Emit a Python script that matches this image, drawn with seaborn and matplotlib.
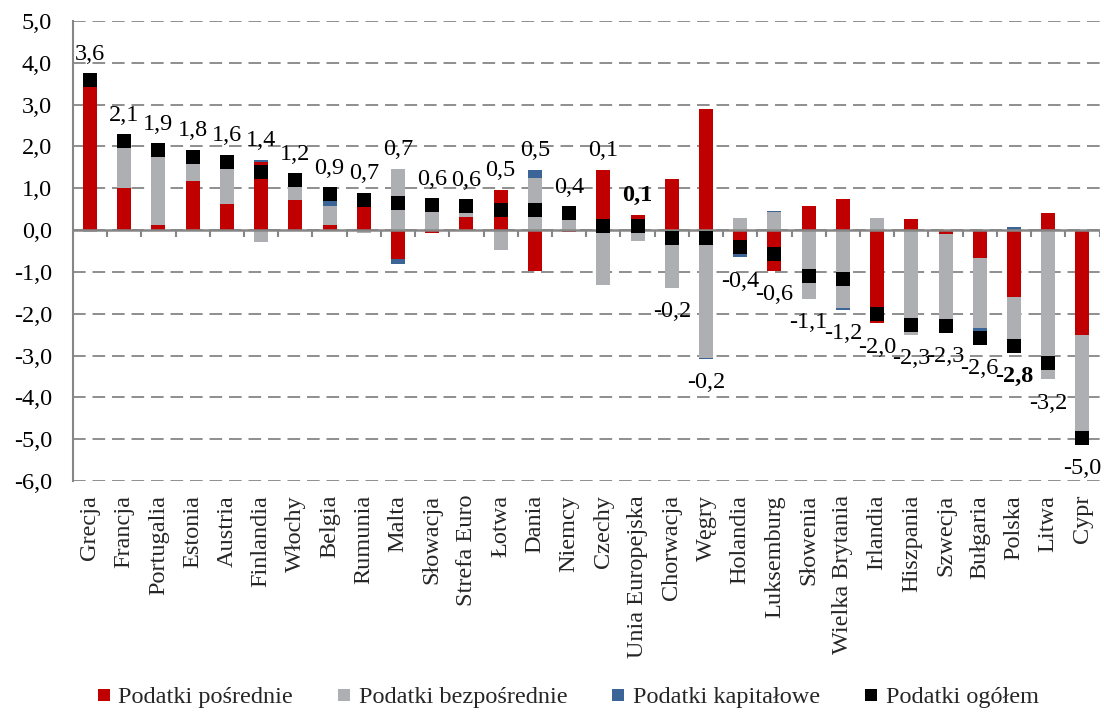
import numpy as np
import pandas as pd
import matplotlib
matplotlib.use("Agg")
import matplotlib.pyplot as plt
from matplotlib.lines import Line2D
import seaborn as sns

# ---------------- data ----------------
countries = ["Grecja", "Francja", "Portugalia", "Estonia", "Austria", "Finlandia",
             "Włochy", "Belgia", "Rumunia", "Malta", "Słowacja", "Strefa Euro",
             "Łotwa", "Dania", "Niemcy", "Czechy", "Unia Europejska", "Chorwacja",
             "Węgry", "Holandia", "Luksemburg", "Słowenia", "Wielka Brytania",
             "Irlandia", "Hiszpania", "Szwecja", "Bułgaria", "Polska", "Litwa", "Cypr"]

indirect = [3.43, 1.00, 0.12, 1.17, 0.63, 1.63, 0.72, 0.13, 0.84, -0.68, -0.07, 0.31,
            0.96, -0.98, -0.05, 1.44, 0.36, 1.22, 2.89, -0.58, -0.98, 0.58, 0.74,
            -2.23, 0.26, -0.10, -0.66, -1.60, 0.41, -2.51]
direct = [-0.05, 0.97, 1.63, 0.44, 0.86, -0.28, 0.32, 0.45, -0.08, 1.47, 0.50, 0.30,
          -0.48, 1.25, 0.45, -1.32, -0.26, -1.38, -3.05, 0.29, 0.44, -1.65, -1.87,
          0.28, -2.51, -2.21, -1.67, -1.03, -3.57, -2.32]
capital = [0.00, 0.00, 0.00, 0.00, 0.00, 0.05, 0.02, 0.12, 0.00, -0.12, 0.00, 0.00,
           0.00, 0.19, 0.00, 0.00, 0.00, 0.00, -0.03, -0.07, 0.02, 0.00, -0.03,
           0.00, 0.00, 0.00, -0.08, 0.07, 0.00, 0.00]
total = [3.58, 2.12, 1.91, 1.76, 1.64, 1.38, 1.19, 0.86, 0.73, 0.66, 0.59, 0.57,
         0.47, 0.47, 0.40, 0.09, 0.09, -0.18, -0.20, -0.40, -0.56, -1.09, -1.16,
         -2.00, -2.26, -2.30, -2.57, -2.78, -3.17, -4.98]

series_names = ["Podatki pośrednie", "Podatki bezpośrednie", "Podatki kapitałowe", "Podatki ogółem"]
bold_labels = ["Unia Europejska", "Polska"]
yticks = [-6, -5, -4, -3, -2, -1, 0, 1, 2, 3, 4, 5]

# ---------------- style ----------------
RED = "#C00000"
GRAY = "#AEAFB2"
BLUE = "#3B6497"
AXC = "#868686"
FS = 17.5

sns.set_theme(style="white")
plt.rcParams["font.family"] = ["Liberation Serif", "DejaVu Serif"]
plt.rcParams["axes.unicode_minus"] = False

fig, ax = plt.subplots(figsize=(11.04, 7.12), dpi=100)
fig.subplots_adjust(left=0.066, right=0.996, top=0.9705, bottom=0.3244)

n = len(countries)
pos_bottom = np.zeros(n)
neg_bottom = np.zeros(n)
for vals, col in [(indirect, RED), (direct, GRAY), (capital, BLUE)]:
    v = np.array(vals, dtype=float)
    p = np.clip(v, 0, None)
    q = np.clip(v, None, 0)
    sns.barplot(x=countries, y=p, order=countries, bottom=pos_bottom.copy(), color=col,
                saturation=1, width=0.41, errorbar=None, linewidth=0, ax=ax, zorder=2)
    sns.barplot(x=countries, y=q, order=countries, bottom=neg_bottom.copy(), color=col,
                saturation=1, width=0.41, errorbar=None, linewidth=0, ax=ax, zorder=2)
    pos_bottom += p
    neg_bottom += q

sns.stripplot(x=countries, y=total, order=countries, jitter=False, marker="s", size=10.2,
              color="black", linewidth=0, ax=ax, zorder=4)

# value labels
for i, (c, t) in enumerate(zip(countries, total)):
    txt = f"{t:.1f}".replace(".", ",")
    weight = "bold" if c in bold_labels else "normal"
    if t >= 0:
        top = max(pos_bottom[i], t + 0.16)
        ax.text(i, top + 0.33, txt, ha="center", va="baseline", fontsize=FS,
                fontweight=weight, color="black", zorder=5)
    else:
        bot = min(neg_bottom[i], t - 0.16)
        ax.text(i, bot - 0.32, txt, ha="center", va="top", fontsize=FS,
                fontweight=weight, color="black", zorder=5)

# axes
ax.set_ylim(-6, 5)
ax.set_xlim(-0.5, n - 0.5)
ax.set_yticks(yticks)
ax.set_yticklabels([f"{y:.1f}".replace(".", ",") for y in yticks], fontsize=FS)
ax.set_xticks(range(n))
ax.set_xticklabels(countries, rotation=90, fontsize=FS, va="top", ha="center")
ax.set_xlabel("")
ax.set_ylabel("")

ax.yaxis.grid(True, linestyle=(0, (7, 3.8)), color=AXC, linewidth=1.3, zorder=0)
ax.xaxis.grid(False)
ax.set_axisbelow(True)
for s in ["top", "right", "bottom"]:
    ax.spines[s].set_visible(False)
ax.spines["left"].set_color(AXC)
ax.spines["left"].set_linewidth(1.5)
ax.tick_params(axis="y", length=5, width=1.3, color=AXC, pad=10, colors="black")
ax.tick_params(axis="y", which="major", color=AXC)
ax.tick_params(axis="x", length=0, pad=10)

ax.axhline(0, color=AXC, linewidth=1.8, zorder=3)
ax.vlines(np.arange(n + 1) - 0.5, -0.17, 0, color=AXC, linewidth=1.5, zorder=3)

# legend
handles = [Line2D([0], [0], marker="s", linestyle="none", markersize=8,
                  markerfacecolor=c, markeredgewidth=0)
           for c in [RED, GRAY, BLUE, "black"]]
fig.legend(handles, series_names, loc="center", ncol=4, frameon=False,
           bbox_to_anchor=(0.513, 0.021), fontsize=FS, handletextpad=0.2,
           columnspacing=1.7, handlelength=0.8, borderaxespad=0)

fig.savefig("out.png", dpi=100)
